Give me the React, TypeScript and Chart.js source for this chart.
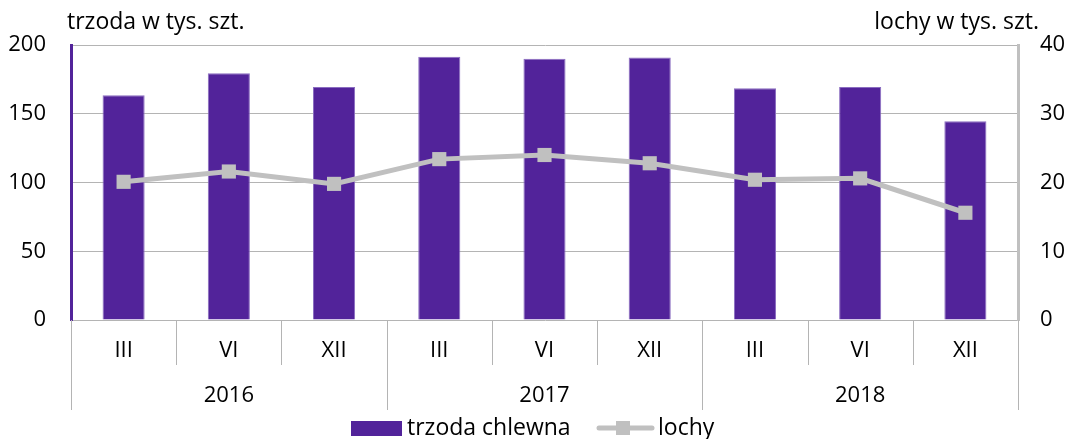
import React, { useEffect, useRef } from 'react';
import { Chart, registerables } from 'chart.js';

Chart.register(...registerables);

const categories = ['III', 'VI', 'XII', 'III', 'VI', 'XII', 'III', 'VI', 'XII'];
const years = ['2016', '2017', '2018'];
const monthsPerYear = 3;
const trzoda = [163.5, 179.5, 169.5, 191.5, 190, 191, 168.5, 169.5, 144.5];
const lochy = [20.1, 21.6, 19.8, 23.4, 24.0, 22.8, 20.4, 20.6, 15.6];
const seriesNames = ['trzoda chlewna', 'lochy'];
const leftTitle = 'trzoda w tys. szt.';
const rightTitle = 'lochy w tys. szt.';

const PURPLE = '#52239a';
const GRAY = '#c0c0c0';
const GRID = '#b4b4b4';
const FONT = "'Open Sans', 'Noto Sans', sans-serif";
const TEXT = '#000';

const decorPlugin = {
  id: 'decor',
  afterDraw(chart: any) {
    const ctx = chart.ctx as CanvasRenderingContext2D;
    const area = chart.chartArea;
    const x = chart.scales.x;
    ctx.save();
    // titles
    ctx.fillStyle = TEXT;
    ctx.font = `23px ${FONT}`;
    ctx.textBaseline = 'middle';
    ctx.textAlign = 'left';
    ctx.fillText(leftTitle, 67, 22);
    ctx.textAlign = 'right';
    ctx.fillText(rightTitle, 1039, 22);

    // category separators and labels
    const n = categories.length;
    const centers = categories.map((_, i) => x.getPixelForValue(i));
    const bounds: number[] = [area.left];
    for (let i = 1; i < n; i++) bounds.push((centers[i - 1] + centers[i]) / 2);
    bounds.push(area.right);
    ctx.strokeStyle = GRID;
    ctx.lineWidth = 1;
    for (let i = 0; i <= n; i++) {
      const isYear = i % monthsPerYear === 0;
      const bx = Math.round(bounds[i]) + 0.5;
      ctx.beginPath();
      ctx.moveTo(bx, area.bottom);
      ctx.lineTo(bx, isYear ? area.bottom + 90 : area.bottom + 45);
      ctx.stroke();
    }
    ctx.fillStyle = TEXT;
    ctx.font = `22px ${FONT}`;
    ctx.textAlign = 'center';
    ctx.textBaseline = 'middle';
    categories.forEach((c, i) => ctx.fillText(c, centers[i], area.bottom + 31));
    years.forEach((y, j) => {
      const l = bounds[j * monthsPerYear];
      const r = bounds[(j + 1) * monthsPerYear];
      ctx.fillText(y, (l + r) / 2, area.bottom + 76);
    });

    // legend
    const ly = 428;
    ctx.fillStyle = PURPLE;
    ctx.fillRect(351, 421, 51, 15);
    ctx.fillStyle = TEXT;
    ctx.font = `23px ${FONT}`;
    ctx.textAlign = 'left';
    ctx.fillText(seriesNames[0], 407, ly);
    ctx.strokeStyle = GRAY;
    ctx.lineWidth = 5;
    ctx.lineCap = 'round';
    ctx.beginPath();
    ctx.moveTo(599, ly);
    ctx.lineTo(652, ly);
    ctx.stroke();
    ctx.fillStyle = GRAY;
    ctx.fillRect(616, ly - 7, 14, 14);
    ctx.fillStyle = TEXT;
    ctx.fillText(seriesNames[1], 658, ly);
    ctx.restore();
  },
};

export default function App() {
  const ref = useRef<HTMLCanvasElement>(null);
  useEffect(() => {
    document.body.style.margin = '0';
    const chart = new Chart(ref.current!, {
      type: 'bar',
      data: {
        labels: categories,
        datasets: [
          {
            type: 'line',
            label: seriesNames[1],
            data: lochy,
            yAxisID: 'y1',
            borderColor: GRAY,
            backgroundColor: GRAY,
            borderWidth: 5,
            pointStyle: 'rect',
            pointRadius: 10,
            pointBorderWidth: 0,
            tension: 0,
            order: 0,
          },
          {
            type: 'bar',
            label: seriesNames[0],
            data: trzoda,
            yAxisID: 'y',
            backgroundColor: PURPLE,
            borderColor: '#8a6cc0',
            borderWidth: 1,
            categoryPercentage: 0.4,
            barPercentage: 1,
            order: 1,
          },
        ],
      },
      options: {
        responsive: false,
        animation: false,
        layout: { padding: { top: 45, bottom: 119, left: 0, right: 0 } },
        plugins: { legend: { display: false }, tooltip: { enabled: false } },
        scales: {
          x: {
            type: 'category',
            offset: true,
            display: false,
          },
          y: {
            position: 'left',
            min: 0,
            max: 200,
            ticks: { stepSize: 50, padding: 25, color: TEXT, font: { family: FONT, size: 22 } },
            grid: { color: GRID, drawTicks: false, lineWidth: 1 },
            border: { display: true, color: PURPLE, width: 3 },
            afterFit: (s: any) => { s.width = 71; },
          },
          y1: {
            position: 'right',
            min: 0,
            max: 40,
            ticks: { stepSize: 10, padding: 22, color: TEXT, font: { family: FONT, size: 22 } },
            grid: { drawOnChartArea: false, drawTicks: false },
            border: { display: true, color: GRAY, width: 3 },
            afterFit: (s: any) => { s.width = 49; },
          },
        },
      },
      plugins: [decorPlugin],
    });
    return () => chart.destroy();
  }, []);
  return (
    <div style={{ width: 1067, height: 439 }}>
      <canvas ref={ref} width={1067} height={439} />
    </div>
  );
}
